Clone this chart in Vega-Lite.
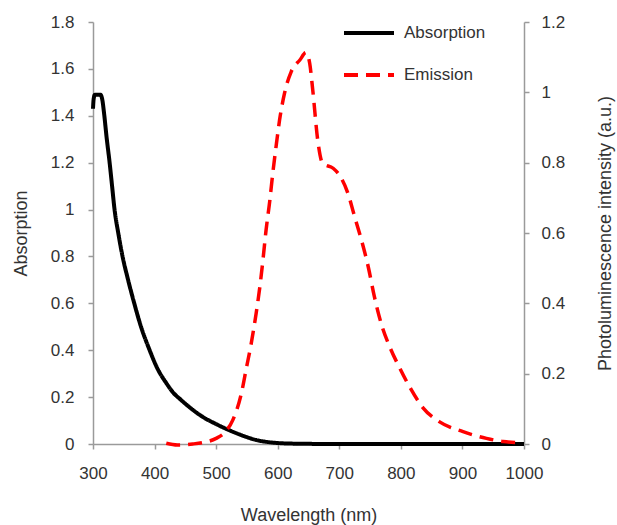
{
  "$schema": "https://vega.github.io/schema/vega-lite/v6.json",
  "width": 431,
  "height": 422,
  "autosize": {"type": "none"},
  "padding": {"left": 93, "top": 22, "right": 93, "bottom": 81},
  "config": {
    "view": {"stroke": null},
    "font": "Liberation Sans",
    "axis": {
      "domainColor": "#9a9a9a", "tickColor": "#9a9a9a", "grid": false,
      "labelColor": "#333333", "titleColor": "#333333",
      "labelFontSize": 17, "titleFontSize": 18, "titleFontWeight": "normal",
      "tickSize": 5, "domainWidth": 1.5, "tickWidth": 1.5
    }
  },
  "datasets": {
    "abs": [
      {"wl": 300, "value": 1.43, "series": "Absorption"},
      {"wl": 301, "value": 1.47, "series": "Absorption"},
      {"wl": 303, "value": 1.49, "series": "Absorption"},
      {"wl": 308, "value": 1.49, "series": "Absorption"},
      {"wl": 312, "value": 1.49, "series": "Absorption"},
      {"wl": 315, "value": 1.47, "series": "Absorption"},
      {"wl": 318, "value": 1.41, "series": "Absorption"},
      {"wl": 322, "value": 1.31, "series": "Absorption"},
      {"wl": 327, "value": 1.20, "series": "Absorption"},
      {"wl": 331, "value": 1.10, "series": "Absorption"},
      {"wl": 335, "value": 1.00, "series": "Absorption"},
      {"wl": 341, "value": 0.90, "series": "Absorption"},
      {"wl": 348, "value": 0.80, "series": "Absorption"},
      {"wl": 357, "value": 0.70, "series": "Absorption"},
      {"wl": 367, "value": 0.60, "series": "Absorption"},
      {"wl": 378, "value": 0.50, "series": "Absorption"},
      {"wl": 392, "value": 0.40, "series": "Absorption"},
      {"wl": 405, "value": 0.32, "series": "Absorption"},
      {"wl": 419, "value": 0.26, "series": "Absorption"},
      {"wl": 430, "value": 0.22, "series": "Absorption"},
      {"wl": 443, "value": 0.188, "series": "Absorption"},
      {"wl": 460, "value": 0.15, "series": "Absorption"},
      {"wl": 478, "value": 0.116, "series": "Absorption"},
      {"wl": 500, "value": 0.085, "series": "Absorption"},
      {"wl": 522, "value": 0.058, "series": "Absorption"},
      {"wl": 545, "value": 0.034, "series": "Absorption"},
      {"wl": 565, "value": 0.017, "series": "Absorption"},
      {"wl": 585, "value": 0.008, "series": "Absorption"},
      {"wl": 608, "value": 0.003, "series": "Absorption"},
      {"wl": 640, "value": 0.001, "series": "Absorption"},
      {"wl": 700, "value": 0.0, "series": "Absorption"},
      {"wl": 800, "value": 0.0, "series": "Absorption"},
      {"wl": 900, "value": 0.0, "series": "Absorption"},
      {"wl": 1000, "value": 0.0, "series": "Absorption"}
    ],
    "em": [
      {"wl": 419, "value": 0.002, "series": "Emission"},
      {"wl": 437, "value": -0.003, "series": "Emission"},
      {"wl": 462, "value": 0.0, "series": "Emission"},
      {"wl": 478, "value": 0.004, "series": "Emission"},
      {"wl": 500, "value": 0.016, "series": "Emission"},
      {"wl": 515, "value": 0.035, "series": "Emission"},
      {"wl": 527, "value": 0.068, "series": "Emission"},
      {"wl": 541, "value": 0.144, "series": "Emission"},
      {"wl": 549, "value": 0.215, "series": "Emission"},
      {"wl": 557, "value": 0.286, "series": "Emission"},
      {"wl": 565, "value": 0.372, "series": "Emission"},
      {"wl": 571, "value": 0.447, "series": "Emission"},
      {"wl": 576, "value": 0.523, "series": "Emission"},
      {"wl": 581, "value": 0.607, "series": "Emission"},
      {"wl": 587, "value": 0.69, "series": "Emission"},
      {"wl": 592, "value": 0.77, "series": "Emission"},
      {"wl": 598, "value": 0.855, "series": "Emission"},
      {"wl": 603, "value": 0.921, "series": "Emission"},
      {"wl": 611, "value": 0.997, "series": "Emission"},
      {"wl": 622, "value": 1.059, "series": "Emission"},
      {"wl": 636, "value": 1.092, "series": "Emission"},
      {"wl": 646, "value": 1.113, "series": "Emission"},
      {"wl": 652, "value": 1.082, "series": "Emission"},
      {"wl": 657, "value": 1.005, "series": "Emission"},
      {"wl": 665, "value": 0.864, "series": "Emission"},
      {"wl": 673, "value": 0.798, "series": "Emission"},
      {"wl": 690, "value": 0.784, "series": "Emission"},
      {"wl": 700, "value": 0.765, "series": "Emission"},
      {"wl": 714, "value": 0.713, "series": "Emission"},
      {"wl": 725, "value": 0.646, "series": "Emission"},
      {"wl": 736, "value": 0.58, "series": "Emission"},
      {"wl": 747, "value": 0.504, "series": "Emission"},
      {"wl": 757, "value": 0.419, "series": "Emission"},
      {"wl": 768, "value": 0.343, "series": "Emission"},
      {"wl": 782, "value": 0.276, "series": "Emission"},
      {"wl": 797, "value": 0.22, "series": "Emission"},
      {"wl": 814, "value": 0.163, "series": "Emission"},
      {"wl": 836, "value": 0.103, "series": "Emission"},
      {"wl": 863, "value": 0.063, "series": "Emission"},
      {"wl": 901, "value": 0.035, "series": "Emission"},
      {"wl": 939, "value": 0.016, "series": "Emission"},
      {"wl": 966, "value": 0.007, "series": "Emission"},
      {"wl": 995, "value": 0.004, "series": "Emission"}
    ]
  },
  "layer": [
    {
      "data": {"name": "abs"},
      "mark": {"type": "line", "strokeWidth": 4, "interpolate": "monotone"},
      "encoding": {
        "x": {
          "field": "wl", "type": "quantitative",
          "scale": {"domain": [300, 1000], "nice": false},
          "axis": {
            "title": "Wavelength (nm)",
            "values": [300, 350, 400, 450, 500, 550, 600, 650, 700, 750, 800, 850, 900, 950, 1000],
            "labelExpr": "datum.value % 100 == 0 ? datum.label : ''",
            "format": "d",
            "labelPadding": 16, "titlePadding": 25, "labelFlush": false, "labelOverlap": false
          }
        },
        "y": {
          "field": "value", "type": "quantitative",
          "scale": {"domain": [0, 1.8], "nice": false},
          "axis": {
            "title": "Absorption", "orient": "left",
            "values": [0, 0.2, 0.4, 0.6, 0.8, 1, 1.2, 1.4, 1.6, 1.8],
            "format": ".1~f", "labelPadding": 14, "titlePadding": 20
          }
        },
        "color": {
          "field": "series", "type": "nominal",
          "scale": {"domain": ["Absorption", "Emission"], "range": ["#000000", "#ff0000"]},
          "legend": {
            "title": null, "orient": "none", "legendX": 249, "legendY": -16,
            "symbolType": "stroke", "symbolSize": 2500, "symbolStrokeWidth": 4,
            "labelFontSize": 17, "labelColor": "#333333", "labelOffset": 8, "rowPadding": 7
          }
        },
        "strokeDash": {
          "field": "series", "type": "nominal",
          "scale": {"domain": ["Absorption", "Emission"], "range": [[1, 0], [14, 8]]},
          "legend": {
            "title": null, "orient": "none", "legendX": 249, "legendY": -16,
            "symbolType": "stroke", "symbolSize": 2500, "symbolStrokeWidth": 4,
            "labelFontSize": 17, "labelColor": "#333333", "labelOffset": 8, "rowPadding": 7
          }
        }
      }
    },
    {
      "data": {"name": "em"},
      "mark": {"type": "line", "strokeWidth": 3.5, "interpolate": "monotone", "strokeCap": "butt"},
      "encoding": {
        "x": {"field": "wl", "type": "quantitative"},
        "y": {
          "field": "value", "type": "quantitative",
          "scale": {"domain": [0, 1.2], "nice": false},
          "axis": {
            "title": "Photoluminescence intensity (a.u.)", "orient": "right",
            "titleAngle": 270, "titleBaseline": "bottom",
            "values": [0, 0.2, 0.4, 0.6, 0.8, 1, 1.2],
            "format": ".1~f", "labelPadding": 12, "titlePadding": 50
          }
        },
        "color": {"field": "series", "type": "nominal"},
        "strokeDash": {"field": "series", "type": "nominal"}
      }
    }
  ],
  "resolve": {"scale": {"y": "independent"}}
}
